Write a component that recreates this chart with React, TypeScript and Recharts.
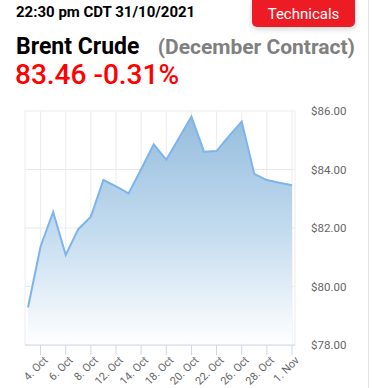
import React from 'react'
import { AreaChart, Area, XAxis, YAxis, CartesianGrid } from 'recharts'

const dates = ['1. Oct','4. Oct','5. Oct','6. Oct','7. Oct','8. Oct','11. Oct','12. Oct','13. Oct','14. Oct','15. Oct','18. Oct','19. Oct','20. Oct','21. Oct','22. Oct','25. Oct','26. Oct','27. Oct','28. Oct','29. Oct','1. Nov']
const prices = [79.28,81.37,82.55,81.08,81.96,82.39,83.64,83.42,83.18,84.01,84.86,84.33,85.07,85.81,84.61,84.63,85.15,85.64,83.85,83.64,83.55,83.46]
const xTicks = ['4. Oct','6. Oct','8. Oct','12. Oct','14. Oct','18. Oct','20. Oct','22. Oct','26. Oct','28. Oct','1. Nov']
const yTicks = [78,80,82,84,86]

const XTick = (props: any) => {
  const { x, y, payload } = props
  return (
    <g transform={`translate(${x + 4},${y})`}>
      <text transform="rotate(-45)" textAnchor="end" fill="#666666" fontSize={11} fontFamily="Roboto" dy="0.5em">{payload.value}</text>
    </g>
  )
}

export default function App(){
  const d = dates.map((date,i)=>({date, v: prices[i]}))
  return (
    <div style={{position:'absolute',left:0,top:0,width:372,height:388,background:'#fff',fontFamily:'Roboto',overflow:'hidden'}}>
      <div style={{position:'absolute',right:3,top:0,width:1,height:388,background:'#e2e2e2'}}/>
      <div style={{position:'absolute',left:16,top:2,fontSize:15,fontWeight:700,color:'#000',lineHeight:'20px'}}>22:30 pm CDT 31/10/2021</div>
      <div style={{position:'absolute',left:252,top:-4,width:103,height:31,background:'#ed1c24',borderRadius:5,color:'#fff',fontSize:15,lineHeight:'31px',textAlign:'center',paddingTop:1,boxSizing:'border-box',boxShadow:'0 2px 6px rgba(0,0,0,0.18)'}}>
        <span style={{position:'relative',top:2}}>Technicals</span>
      </div>
      <div style={{position:'absolute',left:16,top:33,fontSize:23,fontWeight:700,color:'#000',lineHeight:'28px'}}>Brent Crude</div>
      <div style={{position:'absolute',right:17,top:33,fontSize:21,fontWeight:700,color:'#808080',lineHeight:'28px'}}>(December Contract)</div>
      <div style={{position:'absolute',left:15,top:59,fontSize:28,fontWeight:500,color:'#ff0000',lineHeight:'32px'}}>83.46 -0.31%</div>
      <div style={{position:'absolute',left:0,top:100}}>
        <AreaChart width={372} height={288} data={d} margin={{top:11,right:17,bottom:0,left:25}}>
          <defs>
            <linearGradient id="fillBrent" x1="0" y1="0" x2="0" y2="1">
              <stop offset="0%" stopColor="#96bddd"/>
              <stop offset="50%" stopColor="#c3dbef"/>
              <stop offset="100%" stopColor="#ffffff"/>
            </linearGradient>
          </defs>
          <CartesianGrid horizontal={false} stroke="#ececec"/>
          <CartesianGrid vertical={false} stroke="#e9e9e9"/>
          <XAxis dataKey="date" ticks={xTicks} interval={0} padding={{left:3,right:3}} height={43}
            axisLine={{stroke:'#ccd6eb'}} tickLine={{stroke:'#ccd6eb'}} tickSize={10} tickMargin={2} tick={<XTick/>}/>
          <YAxis orientation="right" domain={[78,86]} ticks={yTicks} width={60} axisLine={false} tickLine={false} tickMargin={10}
            tick={{fill:'#666666',fontSize:11.5,fontFamily:'Roboto'}} tickFormatter={(v:number)=>'$'+v.toFixed(2)}/>
          <Area type="linear" dataKey="v" stroke="#7cb5ec" strokeWidth={2} fill="url(#fillBrent)" fillOpacity={1} isAnimationActive={false} dot={false} activeDot={false}/>
        </AreaChart>
      </div>
    </div>
  )
}
